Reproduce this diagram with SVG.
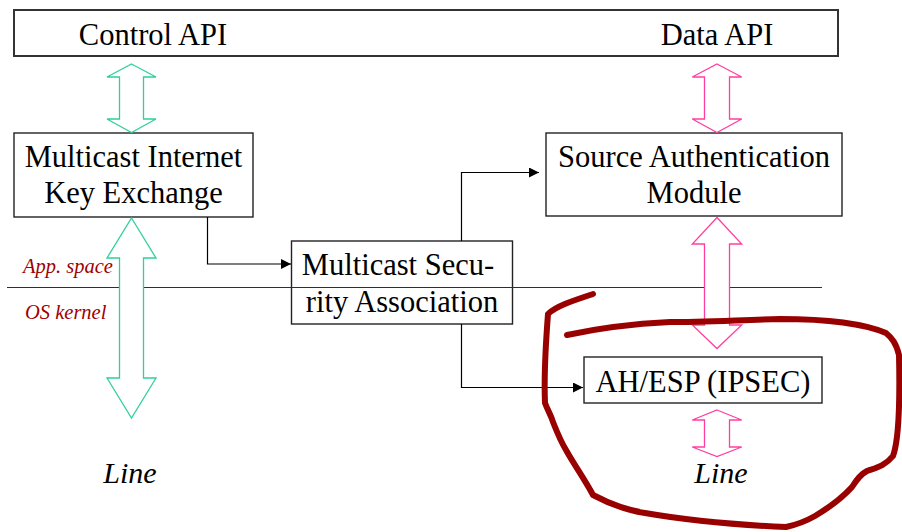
<svg xmlns="http://www.w3.org/2000/svg" width="902" height="532" viewBox="0 0 902 532">
  <defs>
    <marker id="tri" viewBox="0 0 10 10" refX="10" refY="5" markerWidth="10" markerHeight="10" markerUnits="userSpaceOnUse" orient="auto">
      <path d="M0,0 L10,5 L0,10 Z" fill="#000"/>
    </marker>
    <style>
      text { font-family: 'Liberation Serif', 'Times New Roman', serif; }
      .box { fill: #fff; stroke: #222; stroke-width: 1.4; }
      .open { fill: none; stroke: #222; stroke-width: 1.4; }
      .lbl { font-size: 30.5px; fill: #000; text-anchor: middle; }
      .it { font-style: italic; }
      .zone { font-size: 20.5px; fill: #a00000; }
      .line { font-size: 30px; fill: #000; text-anchor: middle; }
      .conn { fill: none; stroke: #000; stroke-width: 1.2; marker-end: url(#tri); }
      .cyan { fill: #fff; stroke: #2fd09c; stroke-width: 1.3; }
      .pink { fill: #fff; stroke: #ff3fa0; stroke-width: 1.3; }
      .divider { stroke: #990000; stroke-width: 1.2; }
      .scribble { fill: none; stroke: #990000; stroke-width: 6; stroke-linecap: round; stroke-linejoin: round; }
    </style>
  </defs>

  <!-- API bar -->
  <g id="api-bar">
    <rect class="box" x="14" y="10" width="824" height="46" style="stroke-width:2;stroke:#333"/>
    <text class="lbl" x="153" y="45">Control API</text>
    <text class="lbl" x="717" y="45">Data API</text>
  </g>

  <!-- key exchange -->
  <g id="mike">
    <rect class="box" x="14" y="133" width="239" height="84"/>
    <text class="lbl" x="133.5" y="167">Multicast Internet</text>
    <text class="lbl" x="133.5" y="203">Key Exchange</text>
  </g>

  <!-- source authentication -->
  <g id="sam">
    <rect class="box" x="546" y="133" width="296" height="83"/>
    <text class="lbl" x="694" y="167">Source Authentication</text>
    <text class="lbl" x="694" y="203">Module</text>
  </g>

  <!-- security association (unfilled, the kernel boundary runs through it) -->
  <g id="msa">
    <rect class="open" x="291.5" y="241" width="221" height="83"/>
    <text class="lbl" x="398" y="275">Multicast Secu-</text>
    <text class="lbl" x="402" y="312">rity Association</text>
  </g>

  <!-- IPsec -->
  <g id="ipsec">
    <rect class="box" x="584" y="357" width="238" height="46"/>
    <text class="lbl" x="703" y="392">AH/ESP (IPSEC)</text>
  </g>

  <!-- app / kernel boundary -->
  <g id="boundary">
    <line class="divider" x1="7" y1="287.5" x2="822" y2="287.5"/>
    <text class="it zone" x="23" y="273">App. space</text>
    <text class="it zone" x="25" y="319">OS kernel</text>
  </g>

  <!-- connectors -->
  <g id="connectors">
    <polyline class="conn" points="207.5,217 207.5,264 291,264"/>
    <polyline class="conn" points="461.5,241 461.5,172.5 539,172.5"/>
    <polyline class="conn" points="461.5,324 461.5,387.5 583,387.5"/>

    <polygon class="cyan" points="131.5,64 156,77 143.5,77 143.5,119 156,119 131.5,132.5 107,119 119.5,119 119.5,77 107,77"/>
    <polygon class="cyan" points="131.5,218 156,258 143.5,258 143.5,378 156,378 131.5,418 107,378 119.5,378 119.5,258 107,258"/>

    <polygon class="pink" points="717,64 741.7,77 729.5,77 729.5,119 741.7,119 717,132.5 692.3,119 704.5,119 704.5,77 692.3,77"/>
    <polygon class="pink" points="717,217.5 741.7,244 729.5,244 729.5,325 741.7,325 717,348.5 692.3,325 704.5,325 704.5,244 692.3,244"/>
    <polygon class="pink" points="717,410 741.7,420 729.5,420 729.5,447 741.7,447 717,456.5 692.3,447 704.5,447 704.5,420 692.3,420"/>
  </g>

  <!-- line endpoints -->
  <g id="line-left">
    <text class="it line" x="130" y="483">Line</text>
  </g>
  <g id="line-right">
    <text class="it line" x="721" y="483">Line</text>
  </g>

  <!-- hand-drawn loop around the IPsec layer -->
  <path class="scribble" d="M593,294 C575,300 556,306 548,314 C546,340 544,380 545,403 C548,411 551,415 553,422 C557,432 560,440 566,450 C575,466 585,480 593,495 C610,504 625,510 645,513 C685,520 740,525 786,527 C800,524 808,520 815,516 C830,507 843,497 852,487 C857,479 861,474 867,471 C875,468 885,466 893,456 C899,440 900,400 899,355 C896,343 892,338 886,333 C860,322 820,319 780,319 C740,320 700,322 670,322 C630,324 590,330 567,335"/>
</svg>
